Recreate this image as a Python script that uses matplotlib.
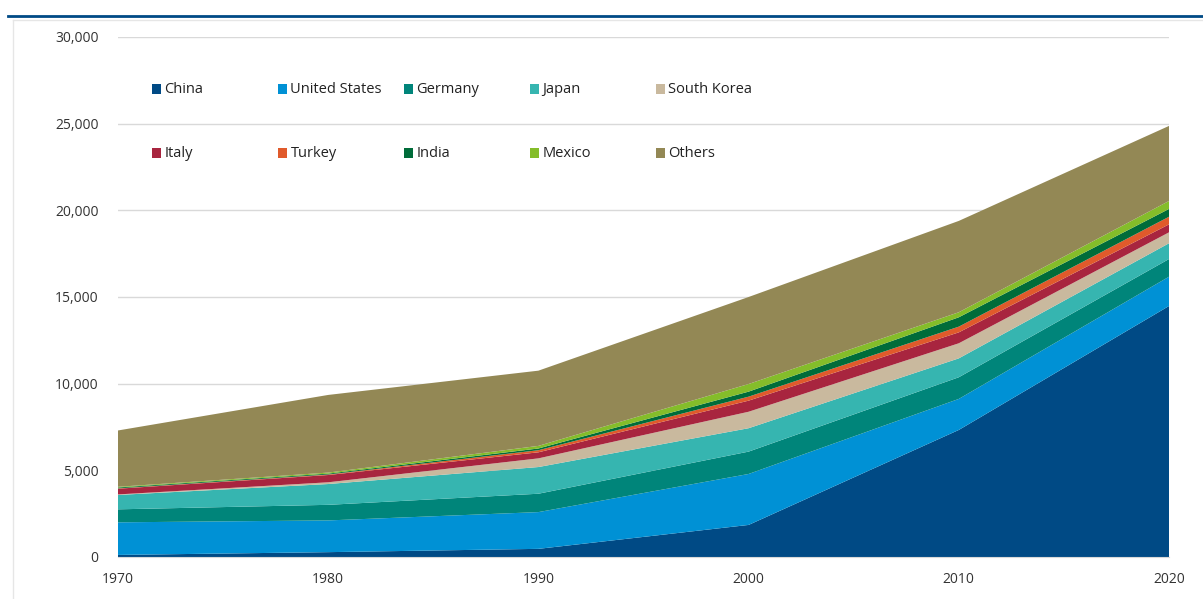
import numpy as np
import matplotlib.pyplot as plt
from matplotlib.patches import Rectangle
from matplotlib.lines import Line2D

plt.rcParams['font.family'] = ['Open Sans', 'DejaVu Sans']

# data
years = [1970, 1980, 1990, 2000, 2010, 2020]
countries = ['China', 'United States', 'Germany', 'Japan', 'South Korea',
             'Italy', 'Turkey', 'India', 'Mexico', 'Others']
china = [120, 280, 470, 1850, 7330, 14480]
united_states = [1880, 1830, 2120, 2940, 1790, 1690]
germany = [750, 900, 1060, 1290, 1250, 1020]
japan = [830, 1200, 1540, 1350, 1090, 910]
south_korea = [30, 100, 500, 950, 870, 630]
italy = [330, 420, 350, 640, 630, 460]
turkey = [20, 30, 120, 230, 330, 440]
india = [50, 50, 100, 290, 540, 450]
mexico = [40, 60, 150, 440, 290, 460]
others = [3250, 4480, 4340, 5020, 5270, 4330]

colors = ['#004A85', '#0091D5', '#00857A', '#36B5B0', '#C9B99E',
          '#A8253F', '#E05A2B', '#006C3A', '#84BD2A', '#938855']

series = [china, united_states, germany, japan, south_korea,
          italy, turkey, india, mexico, others]

fig = plt.figure(figsize=(12.03, 5.99), dpi=100)
ax = fig.add_axes([118 / 1203, 42 / 599, 1051 / 1203, 520 / 599])

ax.stackplot(years, *series, colors=colors, labels=countries, zorder=2)

ax.set_xlim(1970, 2020)
ax.set_ylim(0, 30000)
ax.set_xticks(years)
ax.set_yticks(np.arange(0, 30001, 5000))
ax.yaxis.set_major_formatter(plt.FuncFormatter(lambda v, p: f'{int(v):,}'))
ax.grid(axis='y', color='#D9D9D9', linewidth=1, zorder=0)
ax.set_axisbelow(True)
for s in ['top', 'right', 'left']:
    ax.spines[s].set_visible(False)
ax.spines['bottom'].set_color('#D9D9D9')
ax.tick_params(length=0, labelsize=10, colors='#333333')
ax.tick_params(axis='y', pad=14)
ax.tick_params(axis='x', pad=11)

# legend laid out as a 2 x 5 grid
x0, dx = 0.0325, 0.1198
ys = [0.8995, 0.7765]
for i, (name, c) in enumerate(zip(countries, colors)):
    r, k = divmod(i, 5)
    x = x0 + k * dx
    ax.add_patch(Rectangle((x, ys[r] - 0.009), 0.0088, 0.019, transform=ax.transAxes,
                           facecolor=c, edgecolor='none', zorder=5, clip_on=False))
    ax.text(x + 0.0118, ys[r], name, transform=ax.transAxes, va='center', ha='left',
            fontsize=10.5, color='#222222', zorder=5)

# header rule and frame
fig.add_artist(Line2D([8 / 1203, 1], [1 - 16 / 599, 1 - 16 / 599], color='#004A85',
                      linewidth=2, transform=fig.transFigure))
fig.add_artist(Line2D([13 / 1203, 1], [1 - 20 / 599, 1 - 20 / 599], color='#E6E6E6',
                      linewidth=1, transform=fig.transFigure))
fig.add_artist(Line2D([13 / 1203, 13 / 1203], [0, 1 - 20 / 599], color='#E6E6E6',
                      linewidth=1, transform=fig.transFigure))

fig.savefig('out.png', dpi=100)
